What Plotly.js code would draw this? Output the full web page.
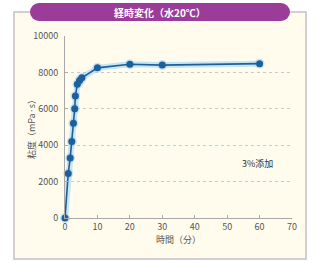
<!DOCTYPE html>
<html><head><meta charset="utf-8">
<script src="https://cdn.plot.ly/plotly-3.0.1.min.js"></script>
<style>html,body{margin:0;padding:0;background:#fff;}#c{width:315px;height:263px;}</style>
</head><body><div id="c"></div>
<script>
const timeMin = [0, 1, 1.6, 2.1, 2.6, 3.0, 3.2, 3.8, 4.5, 5.2, 10, 20, 30, 60];
const viscosity = [0, 2450, 3300, 4200, 5200, 6000, 6700, 7350, 7550, 7700, 8250, 8450, 8400, 8480];
const yTicks = [0, 2000, 4000, 6000, 8000, 10000];
const yTickText = ['0', '2000', '4000', '6000', '8000', '10000'];
const yGrid = [2000, 4000, 6000, 8000];
const xTicks = [0, 10, 20, 30, 40, 50, 60, 70];
const titleText = '経時変化（水20℃）';
const yTitle = '粘度（mPa·s）';
const xTitle = '時間（分）';
const noteText = '3%添加';

const W = 315, H = 263, L = 65, R = 23, T = 36, B = 45;
const pw = W - L - R, ph = H - T - B;
const px = v => (v - L) / pw;
const py = v => (H - B - v) / ph;
const font = 'Noto Sans CJK JP, Noto Sans, sans-serif';

const traces = [
  {x: timeMin, y: viscosity, mode: 'lines+markers', cliponaxis: false, hoverinfo: 'skip',
   line: {color: 'rgba(160,215,245,0.6)', width: 6}, marker: {size: 10, color: 'rgba(160,215,245,0.6)'}},
  {x: timeMin, y: viscosity, mode: 'lines+markers', cliponaxis: false,
   line: {color: '#1f5f99', width: 1.6}, marker: {size: 7, color: '#1f5f99'}},
  {x: [0], y: [0], yaxis: 'y2', mode: 'markers', marker: {opacity: 0}, hoverinfo: 'skip'}
];

const layout = {
  width: W, height: H, margin: {l: L, r: R, t: T, b: B},
  paper_bgcolor: 'rgba(0,0,0,0)', plot_bgcolor: 'rgba(0,0,0,0)', showlegend: false,
  font: {family: font, size: 9, color: '#555'},
  xaxis: {range: [0, 70], tickvals: xTicks, showgrid: false, zeroline: false,
    showline: true, linecolor: '#a8a8a8', linewidth: 1, ticks: 'inside', ticklen: 3, tickcolor: '#aaa',
    tickfont: {size: 9, color: '#555'},
    title: {text: xTitle, font: {size: 9, color: '#555'}, standoff: 4}},
  yaxis: {range: [0, 10000], tickvals: yTicks, ticktext: yTickText, showgrid: false, zeroline: false,
    showline: true, linecolor: '#a8a8a8', linewidth: 1, ticks: 'inside', ticklen: 3, tickcolor: '#aaa',
    tickfont: {size: 9, color: '#555'}, ticklabelstandoff: 4},
  yaxis2: {range: [0, 10000], overlaying: 'y', tickvals: yGrid, showgrid: true,
    gridcolor: '#cfcabb', griddash: 'dot', gridwidth: 1, showticklabels: false, zeroline: false, showline: false},
  shapes: [
    {type: 'rect', xref: 'paper', yref: 'paper', x0: px(14), x1: px(306), y0: py(259), y1: py(12),
     line: {color: '#c9bcc9', width: 1.5}, fillcolor: '#fffcee', layer: 'below'},
    {type: 'rect', xref: 'paper', yref: 'paper', x0: px(39), x1: px(281), y0: py(21), y1: py(3),
     line: {width: 0}, fillcolor: '#9b3d98', layer: 'below'},
    {type: 'circle', xref: 'paper', yref: 'paper', x0: px(30), x1: px(48), y0: py(21), y1: py(3),
     line: {width: 0}, fillcolor: '#9b3d98', layer: 'below'},
    {type: 'circle', xref: 'paper', yref: 'paper', x0: px(272), x1: px(290), y0: py(21), y1: py(3),
     line: {width: 0}, fillcolor: '#9b3d98', layer: 'below'}
  ],
  annotations: [
    {text: '<b>' + titleText + '</b>', xref: 'paper', yref: 'paper', x: px(160), y: py(12),
     xanchor: 'center', yanchor: 'middle', showarrow: false, font: {size: 10, color: '#ffffff', family: font}},
    {text: yTitle, xref: 'paper', yref: 'paper', x: px(31), y: py(127), textangle: -90,
     xanchor: 'center', yanchor: 'middle', showarrow: false, font: {size: 9, color: '#555', family: font}},
    {text: noteText, xref: 'x', yref: 'y', x: 59.5, y: 3000, showarrow: false,
     font: {size: 9, color: '#333', family: font}}
  ]
};
Plotly.newPlot('c', traces, layout, {staticPlot: true, displayModeBar: false});
</script></body></html>
